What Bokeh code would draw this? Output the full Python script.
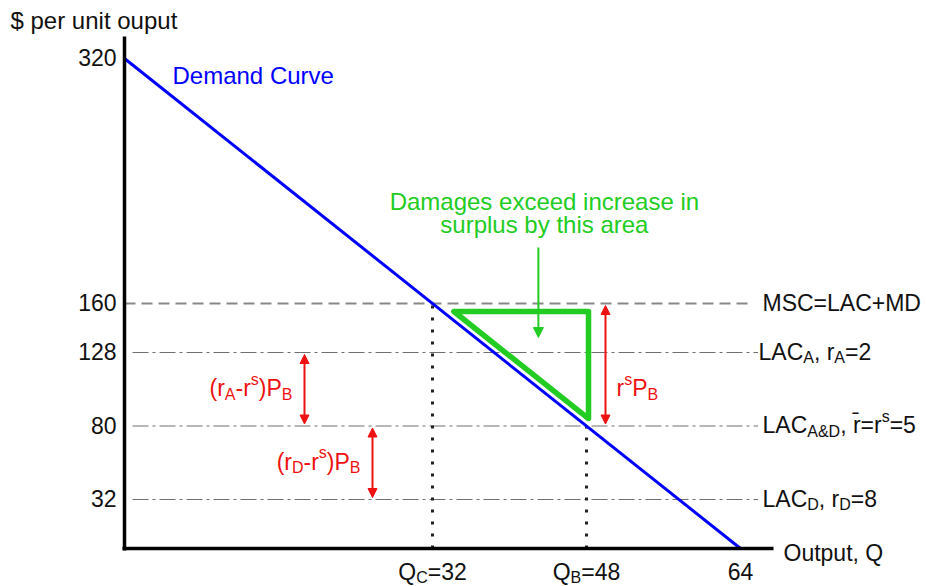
import numpy as np
from bokeh.plotting import figure
from bokeh.models import Range1d, Arrow, NormalHead
from bokeh.core.properties import value
from bokeh.embed import file_html
from bokeh.resources import INLINE

# ---------------- data ----------------
demand_q = [0, 64]
demand_p = [320, 0]
msc_price = 160
lac_prices = [128, 80, 32]
y_tick_values = [320, 160, 128, 80, 32]
y_tick_labels = ["320", "160", "128", "80", "32"]
q_c = 32
q_b = 48
q_max = 64

# ---------------- layout ----------------
W, H = 926, 586
ORIGIN_X = 124      # canvas px of Q = 0
ORIGIN_Y = 38       # canvas px (from bottom) of P = 0
PX_Q = 616 / 64     # px per unit of Q
PX_P = 490 / 320    # px per unit of P


def dx(px):
    return px / PX_Q


def dy(px):
    return px / PX_P


x_range = Range1d(-ORIGIN_X / PX_Q, (W - ORIGIN_X) / PX_Q)
y_range = Range1d(-ORIGIN_Y / PX_P, (H - ORIGIN_Y) / PX_P)

p = figure(width=W, height=H, x_range=x_range, y_range=y_range,
           output_backend="svg", toolbar_location=None,
           x_axis_location=None, y_axis_location=None,
           min_border=0, outline_line_color=None)
p.grid.visible = False
p.background_fill_color = "white"

FONT = value("Liberation Sans")
FS, FS_S = 23, 16
SUB_DY, SUP_DY = 6, -9
MID = -1  # offset that vertically centres a line of text on its anchor

BLACK = "#111111"
BLUE = "#0000ff"
GREEN = "#22cc22"
RED = "#ee1111"

AW = {' ': 278, '$': 556, '(': 333, ')': 333, '+': 584, ',': 278, '-': 333,
      '=': 584, '&': 667, 'A': 667, 'B': 667, 'C': 722, 'D': 722, 'L': 556,
      'M': 833, 'P': 667, 'Q': 778, 'S': 667, 'O': 778, 'a': 556, 'b': 556,
      'c': 500, 'd': 556, 'e': 556, 'g': 556, 'h': 556, 'i': 222, 'l': 222,
      'm': 833, 'n': 556, 'o': 556, 'p': 556, 'r': 333, 's': 500, 't': 278,
      'u': 556, 'v': 500, 'x': 500, 'y': 500}


def tw(s, size):
    return sum(AW.get(c, 556) for c in s if c != '\u0304') * size / 1000.0


def rich(x, y, parts, color, align="left", xoff=0.0, yoff=0.0, fs=FS):
    sizes = [fs if k == 'n' else FS_S for _, k in parts]
    total = sum(tw(t, s) for (t, _), s in zip(parts, sizes))
    cur = xoff + {"left": 0.0, "center": -total / 2.0, "right": -total}[align]
    for (t, k), s in zip(parts, sizes):
        d = 0 if k == 'n' else (SUB_DY if k == 'sub' else SUP_DY)
        p.text(x=[x], y=[y], text=[t], x_offset=cur, y_offset=yoff + d,
               text_font=FONT, text_font_size=f"{s}px", text_color=color,
               text_align="left", text_baseline="middle")
        cur += tw(t, s)


# ---------------- reference lines ----------------
# MSC dashed line
p.segment(x0=[0], y0=[msc_price], x1=[q_max + dx(12)], y1=[msc_price],
          line_color="#888888", line_width=2.2, line_dash="11 6")
# LAC dash-dot lines
p.segment(x0=[dx(8)] * len(lac_prices), y0=lac_prices,
          x1=[q_max + dx(17.5)] * len(lac_prices), y1=lac_prices,
          line_color="#707070", line_width=1.2, line_dash="16 4 3 4")

# dotted verticals
p_at_qb = float(np.interp(q_b, demand_q, demand_p))
p_at_qc = float(np.interp(q_c, demand_q, demand_p))
p.segment(x0=[q_c, q_b], y0=[0, 0], x1=[q_c, q_b], y1=[p_at_qc, p_at_qb],
          line_color="#222222", line_width=3, line_dash="3 9")

# ---------------- green triangle ----------------
inset_top = dy(8)
hyp_shift = dy(9)
tri_right = q_b + dx(2)
y_top = msc_price - inset_top
slope = (demand_p[1] - demand_p[0]) / (demand_q[1] - demand_q[0])
x_left = (y_top - demand_p[0] - hyp_shift) / slope
y_bottom = demand_p[0] + slope * tri_right + hyp_shift
p.patch(x=[x_left, tri_right, tri_right], y=[y_top, y_top, y_bottom],
        fill_color=None, line_color=GREEN, line_width=5.5, line_join="round")

# ---------------- demand curve ----------------
p.line(demand_q, demand_p, line_color=BLUE, line_width=3)

# ---------------- axes ----------------
p.segment(x0=[0], y0=[-dy(2)], x1=[0], y1=[demand_p[0] + dy(22)],
          line_color="black", line_width=3.5)
p.segment(x0=[-dx(2)], y0=[0], x1=[q_max + dx(33)], y1=[0],
          line_color="black", line_width=3.5)

# ---------------- arrows ----------------
gap = dy(2)
green_arrow_q = 43
p.add_layout(Arrow(end=NormalHead(size=10, fill_color=GREEN, line_color=GREEN),
                   x_start=green_arrow_q, y_start=msc_price + dy(56),
                   x_end=green_arrow_q, y_end=msc_price - dy(34),
                   line_color=GREEN, line_width=2))

red_arrows = [
    (q_b + dx(19), lac_prices[1], msc_price),
    (dx(180), lac_prices[1], lac_prices[0]),
    (dx(248), lac_prices[2], lac_prices[1]),
]
for xq, lo, hi in red_arrows:
    p.add_layout(Arrow(start=NormalHead(size=9, fill_color=RED, line_color=RED),
                       end=NormalHead(size=9, fill_color=RED, line_color=RED),
                       x_start=xq, y_start=lo + gap, x_end=xq, y_end=hi - gap,
                       line_color=RED, line_width=2))

# ---------------- texts ----------------
# title
rich(x_range.start + dx(10), y_range.end - dy(20), [("$ per unit ouput", 'n')], BLACK, fs=24)

# y tick labels
for v, lbl in zip(y_tick_values, y_tick_labels):
    rich(0, v, [(lbl, 'n')], BLACK, align="right", xoff=-8, yoff=MID)

# x tick labels
rich(q_c, 0, [("Q", 'n'), ("C", 'sub'), ("=32", 'n')], BLACK, align="center", yoff=23)
rich(q_b, 0, [("Q", 'n'), ("B", 'sub'), ("=48", 'n')], BLACK, align="center", yoff=23)
rich(q_max, 0, [("64", 'n')], BLACK, align="center", yoff=23)
rich(q_max + dx(43), 0, [("Output, Q", 'n')], BLACK, yoff=5 + MID)

# demand label
rich(dx(48), demand_p[0], [("Demand Curve", 'n')], BLUE, yoff=18 + MID, fs=24)

# right-hand labels
rich(q_max + dx(22), msc_price, [("MSC=LAC+MD", 'n')], BLACK, yoff=MID)
rich(q_max + dx(18), lac_prices[0],
     [("LAC", 'n'), ("A", 'sub'), (", r", 'n'), ("A", 'sub'), ("=2", 'n')], BLACK, yoff=MID)
rich(q_max + dx(22), lac_prices[1],
     [("LAC", 'n'), ("A&D", 'sub'), (", r\u0304=r", 'n'), ("s", 'sup'), ("=5", 'n')],
     BLACK, yoff=MID)
rich(q_max + dx(22), lac_prices[2],
     [("LAC", 'n'), ("D", 'sub'), (", r", 'n'), ("D", 'sub'), ("=8", 'n')], BLACK, yoff=MID)

# green annotation
rich(green_arrow_q + dx(6), msc_price + dy(101), [("Damages exceed increase in", 'n')],
     GREEN, align="center", yoff=MID, fs=24)
rich(green_arrow_q + dx(6), msc_price + dy(78), [("surplus by this area", 'n')],
     GREEN, align="center", yoff=MID, fs=24)

# red annotations
rich(red_arrows[0][0] + dx(11), 104, [("r", 'n'), ("s", 'sup'), ("P", 'n'), ("B", 'sub')],
     RED, yoff=MID)
rich(red_arrows[1][0] - dx(12), (lac_prices[0] + lac_prices[1]) / 2,
     [("(r", 'n'), ("A", 'sub'), ("-r", 'n'), ("s", 'sup'), (")P", 'n'), ("B", 'sub')],
     RED, align="right", yoff=MID)
rich(red_arrows[2][0] - dx(12), (lac_prices[1] + lac_prices[2]) / 2,
     [("(r", 'n'), ("D", 'sub'), ("-r", 'n'), ("s", 'sup'), (")P", 'n'), ("B", 'sub')],
     RED, align="right", yoff=MID)

open("out.html", "w").write(file_html(p, INLINE))
